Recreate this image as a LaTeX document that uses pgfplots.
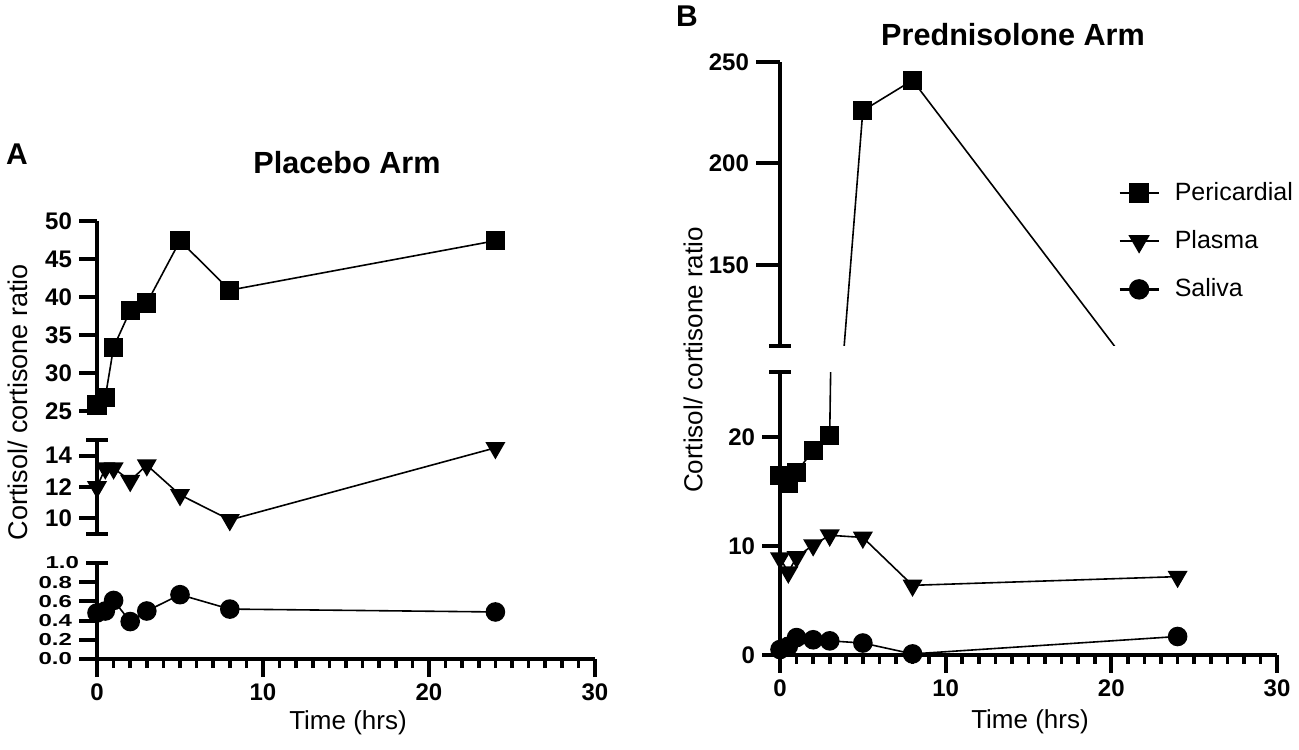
\documentclass[border=0pt]{standalone}
\usepackage{fontspec}
\setmainfont{Liberation Sans}
\usepackage{graphicx}
\usepackage{pgfplots}
\usepackage{pgfplotstable}
\pgfplotsset{compat=1.18}

\pgfplotstableread{
t per pla sal
0   25.8 12.0 0.48
0.5 26.8 13.2 0.50
1   33.4 13.2 0.61
2   38.2 12.4 0.39
3   39.2 13.4 0.50
5   47.4 11.5 0.67
8   40.9 9.9  0.52
24  47.4 14.5 0.49
}\placebo

\pgfplotstableread{
t per pla sal
0   16.5 8.9  0.5
0.5 15.8 7.6  0.8
1   16.8 9.0  1.6
2   18.8 10.1 1.4
3   20.2 11.0 1.3
5   226  10.8 1.1
8   241  6.4  0.1
24  69   7.2  1.7
}\pred

\newcommand{\sq}[1]{\scalebox{1}[0.72]{#1}}

\pgfplotsset{
  brk/.style={
    scale only axis, anchor=south west,
    xmin=0, xmax=30,
    axis line style={line width=2pt, black},
    tick align=outside,
    major tick length=9pt, minor tick length=4.5pt,
    major tick style={line width=2pt, black},
    minor tick style={line width=1.8pt, black},
    tick label style={font=\bfseries\fontsize{12}{12}\selectfont, black},
    /pgf/number format/assume math mode=true,
    clip marker paths=false,
    every axis plot/.append style={line width=0.8pt, black},
    extra y tick style={tick align=center, major tick length=11pt},
  },
  topseg/.style={axis x line=none, axis y line*=left, xtick=\empty},
  botseg/.style={axis x line*=bottom, axis y line*=left,
    xtick={0,10,20,30}, minor x tick num=9},
  sqm/.style={mark=square*, mark size=4.4pt, mark options={solid, fill=black}},
  tri/.style={mark=triangle*, mark size=5pt, mark options={solid, rotate=180, fill=black}},
  cir/.style={mark=*, mark size=4.5pt, mark options={solid, fill=black}},
}

\begin{document}
\begin{tikzpicture}[x=1pt,y=1pt]
\useasboundingbox (0,0) rectangle (649.5,374.5);

% ---------------- Panel A ----------------
\begin{axis}[brk, botseg, at={(48.5pt,45pt)}, width=249pt, height=48pt,
  ymin=0, ymax=1, ytick={0,0.2,0.4,0.6,0.8},
  yticklabels={\sq{0.0},\sq{0.2},\sq{0.4},\sq{0.6},\sq{0.8}},
  extra y ticks={1}, extra y tick labels={\sq{1.0}}]
\addplot[cir] table[x=t, y=sal] {\placebo};
\end{axis}

\begin{axis}[brk, topseg, at={(48.5pt,107.5pt)}, width=249pt, height=47pt,
  ymin=9, ymax=15, ytick={10,12,14},
  extra y ticks={9,15}, extra y tick labels={}]
\addplot[tri] table[x=t, y=pla] {\placebo};
\end{axis}

\begin{axis}[brk, topseg, at={(48.5pt,169pt)}, width=249pt, height=95pt,
  ymin=25, ymax=50, ytick={25,30,35,40,45,50}]
\addplot[sqm] table[x=t, y=per] {\placebo};
\end{axis}

% ---------------- Panel B ----------------
\begin{axis}[brk, botseg, at={(390pt,47pt)}, width=248.5pt, height=141.5pt,
  ymin=0, ymax=26, ytick={0,10,20},
  extra y ticks={26}, extra y tick labels={}]
\addplot[cir] table[x=t, y=sal] {\pred};
\addplot[tri] table[x=t, y=pla] {\pred};
\addplot[mark=none] table[x=t, y=per] {\pred};
\addplot[sqm, only marks, restrict y to domain=0:26] table[x=t, y=per] {\pred};
\end{axis}

\begin{axis}[brk, topseg, at={(390pt,201.5pt)}, width=248.5pt, height=142pt,
  ymin=110, ymax=250, ytick={150,200,250}, major tick length=12pt,
  extra y ticks={110}, extra y tick labels={},
  legend style={draw=none, fill=none, at={(0.668,0.605)}, anchor=north west,
    font=\fontsize{12.5}{15}\selectfont, row sep=9.5pt,
    /tikz/every odd column/.append style={column sep=5.5pt},
    legend cell align=left},
  legend image code/.code={\draw[line width=1.2pt, mark repeat=2, mark phase=2]
    plot coordinates {(0pt,0pt) (9.75pt,0pt) (19.5pt,0pt)};}]
\addplot[mark=none, forget plot] table[x=t, y=per] {\pred};
\addplot[sqm, only marks, restrict y to domain=110:250, forget plot] table[x=t, y=per] {\pred};
\addlegendimage{sqm, black}
\addlegendentry{Pericardial}
\addlegendimage{tri, black}
\addlegendentry{Plasma}
\addlegendimage{cir, black}
\addlegendentry{Saliva}
\end{axis}

% ---------------- texts ----------------
\node[font=\bfseries\fontsize{15.3}{16}\selectfont] at (173.5,293) {Placebo Arm};
\node[font=\bfseries\fontsize{15.3}{16}\selectfont] at (506.5,357) {Prednisolone Arm};
\node[font=\bfseries\fontsize{15}{16}\selectfont] at (8.5,297.5) {A};
\node[font=\bfseries\fontsize{15}{16}\selectfont] at (343.5,366.5) {B};
\node[rotate=90, font=\fontsize{13.5}{14}\selectfont] at (9,173.5) {Cortisol/ cortisone ratio};
\node[rotate=90, font=\fontsize{13}{14}\selectfont] at (346.5,194.5) {Cortisol/ cortisone ratio};
\node[font=\fontsize{13}{14}\selectfont] at (174,13) {Time (hrs)};
\node[font=\fontsize{13}{14}\selectfont] at (515,13.5) {Time (hrs)};
\end{tikzpicture}
\end{document}
